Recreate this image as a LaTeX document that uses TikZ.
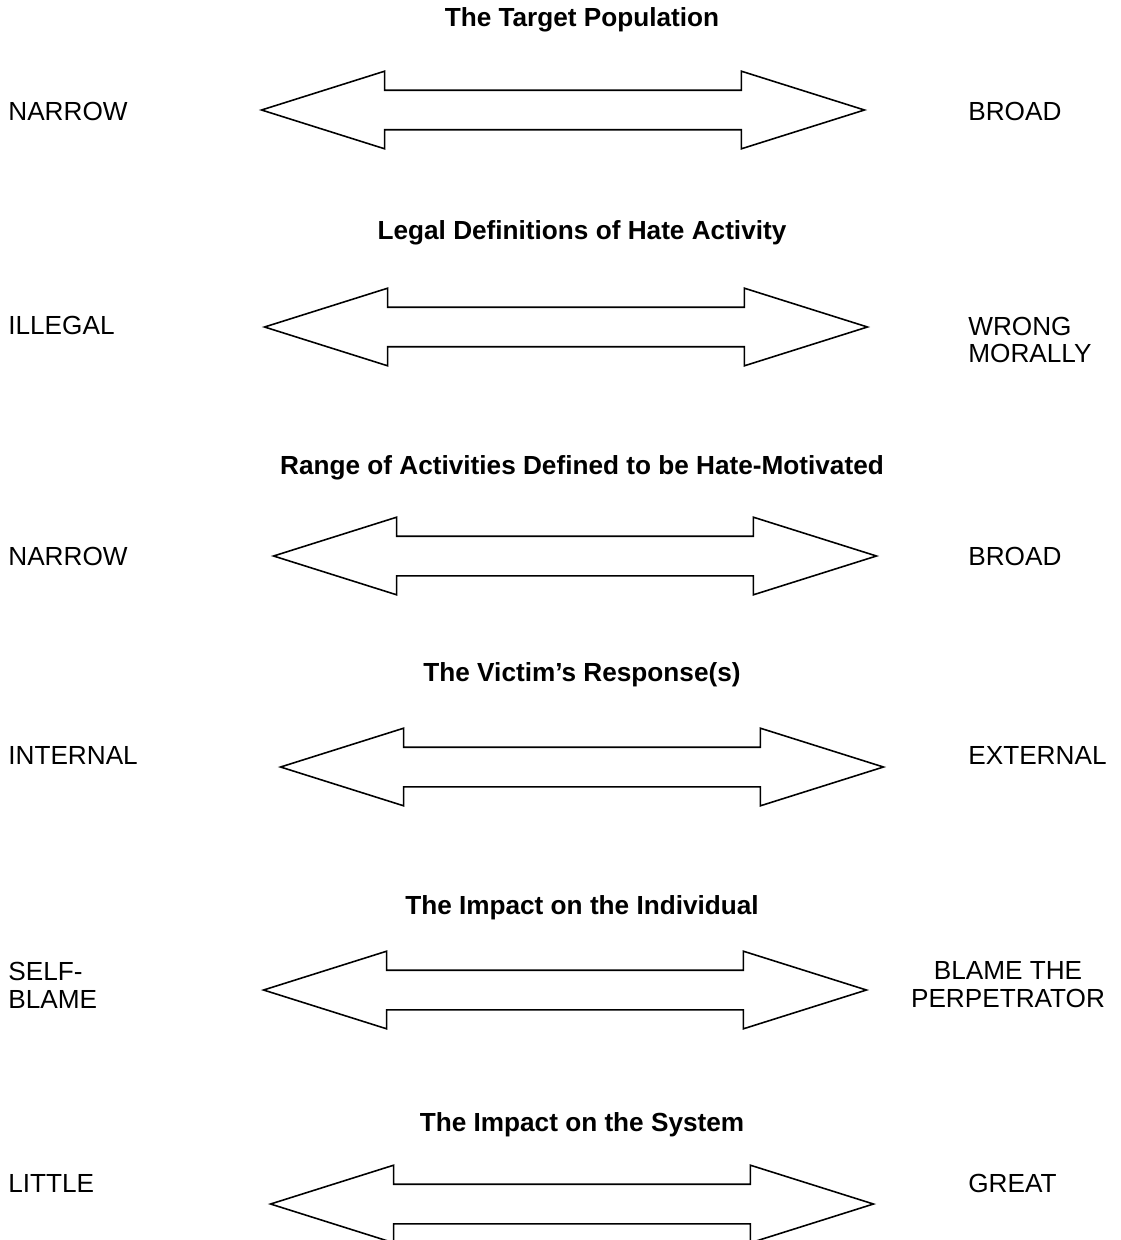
\documentclass[tikz,border=0pt]{standalone}
\usepackage{fontspec}
\setmainfont{Liberation Sans}
\usetikzlibrary{shapes.arrows}

\tikzset{
  scalearrow/.style={draw, line width=0.9pt, double arrow, double arrow tip angle=35,
    double arrow head extend=0.38cm, inner xsep=0pt, inner ysep=0.38cm,
    minimum height=12.06cm},
  heading/.style={font=\bfseries, inner sep=0pt},
  endlabel/.style={anchor=west, align=left, inner sep=0pt},
}

\begin{document}
\begin{tikzpicture}[x=0.02cm, y=-0.02cm]
\fontsize{14.9pt}{15.9pt}\selectfont
\useasboundingbox (0,0) rectangle (1120,1240);

% target population
\node[heading] (titlepop) at (582,20) {The Target Population};
\node[scalearrow] (arrowpop) at (563,110) {};
\node[endlabel] (narrowpop) at (8,111) {NARROW};
\node[endlabel] (broadpop) at (968,111) {BROAD};

% legal definitions
\node[heading] (titlelegal) at (582,233) {Legal Definitions of Hate Activity};
\node[scalearrow] (arrowlegal) at (566,327) {};
\node[endlabel] (illegal) at (8,325) {ILLEGAL};
\node[endlabel] (wrong) at (968,340) {WRONG\\MORALLY};

% range of activities
\node[heading] (titlerange) at (582,468) {Range of Activities Defined to be Hate-Motivated};
\node[scalearrow] (arrowrange) at (575,556) {};
\node[endlabel] (narrowrange) at (8,556) {NARROW};
\node[endlabel] (broadrange) at (968,556) {BROAD};

% victim
\node[heading] (titlevictim) at (582,675) {The Victim's Response(s)};
\node[scalearrow] (arrowvictim) at (582,767) {};
\node[endlabel] (internal) at (8,755) {INTERNAL};
\node[endlabel] (external) at (968,755) {EXTERNAL};

% individual
\node[heading] (titleindiv) at (582,908) {The Impact on the Individual};
\node[scalearrow] (arrowindiv) at (565,990) {};
\node[endlabel] (selfblame) at (8,985) {SELF-\\BLAME};
\node[align=center, inner sep=0pt] (blameperp) at (1008,985) {BLAME THE\\PERPETRATOR};

% system
\node[heading] (titlesystem) at (582,1125) {The Impact on the System};
\node[scalearrow] (arrowsystem) at (572,1204) {};
\node[endlabel] (little) at (8,1183) {LITTLE};
\node[endlabel] (great) at (968,1183) {GREAT};

\end{tikzpicture}
\end{document}
